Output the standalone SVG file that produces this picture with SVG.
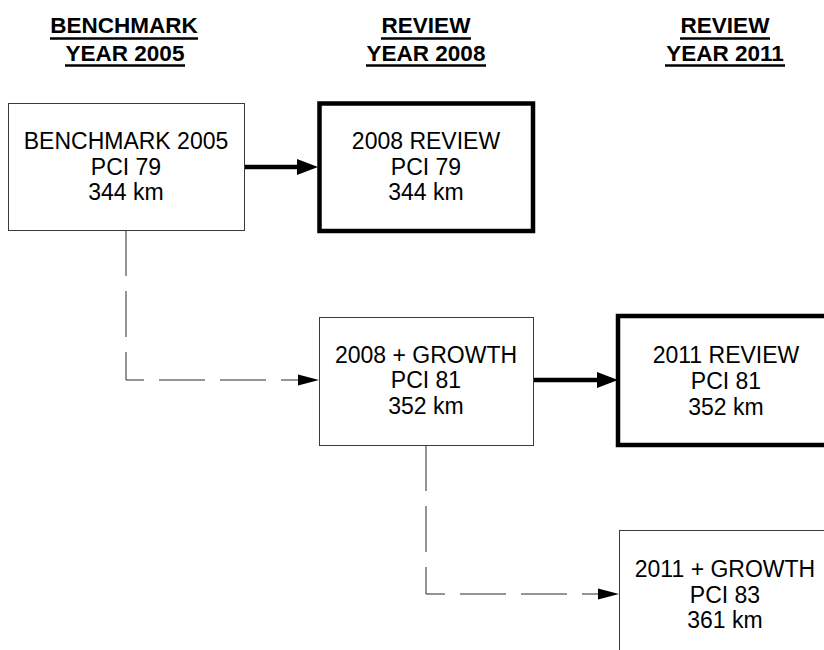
<svg xmlns="http://www.w3.org/2000/svg" width="824" height="650" viewBox="0 0 824 650">
  <style>
    .bg { fill: #ffffff; }
    .box-thin { fill: #ffffff; stroke: #3a3a3a; stroke-width: 1; }
    .box-thick { fill: #ffffff; stroke: #000000; stroke-width: 4.5; }
    .label { font-family: "Liberation Sans", Arial, sans-serif; font-size: 23px; fill: #000000; text-anchor: middle; }
    .head { font-family: "Liberation Sans", Arial, sans-serif; font-size: 22.5px; font-weight: bold; fill: #000000; text-anchor: middle; }
    .uline { stroke: #000000; stroke-width: 2.5; }
    .solid { fill: none; stroke: #000000; stroke-width: 4.5; stroke-linecap: round; }
    .dashed { fill: none; stroke: #2a2a2a; stroke-width: 1; stroke-dasharray: 46 15; }
  </style>
  <defs>
    <marker id="headThick" markerUnits="userSpaceOnUse" markerWidth="24" markerHeight="20" refX="0" refY="10" orient="auto" overflow="visible">
      <path d="M0,2 L21,10 L0,18 z" fill="#000000"/>
    </marker>
    <marker id="headThin" markerUnits="userSpaceOnUse" markerWidth="24" markerHeight="14" refX="0" refY="7" orient="auto" overflow="visible">
      <path d="M0,1.5 L21,7 L0,12.5 z" fill="#000000"/>
    </marker>
  </defs>
  <rect class="bg" x="0" y="0" width="824" height="650"/>

  <g id="headers">
    <text class="head" x="124" y="33">BENCHMARK</text>
    <line class="uline" x1="50" y1="38.5" x2="198" y2="38.5"/>
    <text class="head" x="125" y="61">YEAR 2005</text>
    <line class="uline" x1="65" y1="65.5" x2="185" y2="65.5"/>
    <text class="head" x="426" y="33">REVIEW</text>
    <line class="uline" x1="381" y1="38.5" x2="471" y2="38.5"/>
    <text class="head" x="426" y="61">YEAR 2008</text>
    <line class="uline" x1="366" y1="65.5" x2="486" y2="65.5"/>
    <text class="head" x="725" y="33">REVIEW</text>
    <line class="uline" x1="680" y1="38.5" x2="770" y2="38.5"/>
    <text class="head" x="725" y="61">YEAR 2011</text>
    <line class="uline" x1="665" y1="65.5" x2="785" y2="65.5"/>
  </g>

  <g id="connectors">
    <path class="solid" d="M244,167 H297" marker-end="url(#headThick)"/>
    <path class="solid" d="M533,380 H597" marker-end="url(#headThick)"/>
    <path class="dashed" d="M126,230 V380 H298" marker-end="url(#headThin)"/>
    <path class="dashed" d="M426,445 V594 H598" marker-end="url(#headThin)"/>
  </g>

  <g id="benchmark2005">
    <rect class="box-thin" x="8.5" y="103.5" width="236" height="127"/>
    <text class="label" x="126" y="149">BENCHMARK 2005</text>
    <text class="label" x="126" y="175">PCI 79</text>
    <text class="label" x="126" y="200">344 km</text>
  </g>

  <g id="review2008">
    <rect class="box-thick" x="319.5" y="103.5" width="213.5" height="127.5"/>
    <text class="label" x="426" y="149">2008 REVIEW</text>
    <text class="label" x="426" y="175">PCI 79</text>
    <text class="label" x="426" y="200">344 km</text>
  </g>

  <g id="growth2008">
    <rect class="box-thin" x="319.5" y="317.5" width="214" height="128"/>
    <text class="label" x="426" y="363">2008 + GROWTH</text>
    <text class="label" x="426" y="388">PCI 81</text>
    <text class="label" x="426" y="414">352 km</text>
  </g>

  <g id="review2011">
    <rect class="box-thick" x="618" y="316" width="218" height="129"/>
    <text class="label" x="726" y="363">2011 REVIEW</text>
    <text class="label" x="726" y="389">PCI 81</text>
    <text class="label" x="726" y="415">352 km</text>
  </g>

  <g id="growth2011">
    <rect class="box-thin" x="619.5" y="530.5" width="214" height="140"/>
    <text class="label" x="725" y="577">2011 + GROWTH</text>
    <text class="label" x="725" y="603">PCI 83</text>
    <text class="label" x="725" y="628">361 km</text>
  </g>
</svg>
